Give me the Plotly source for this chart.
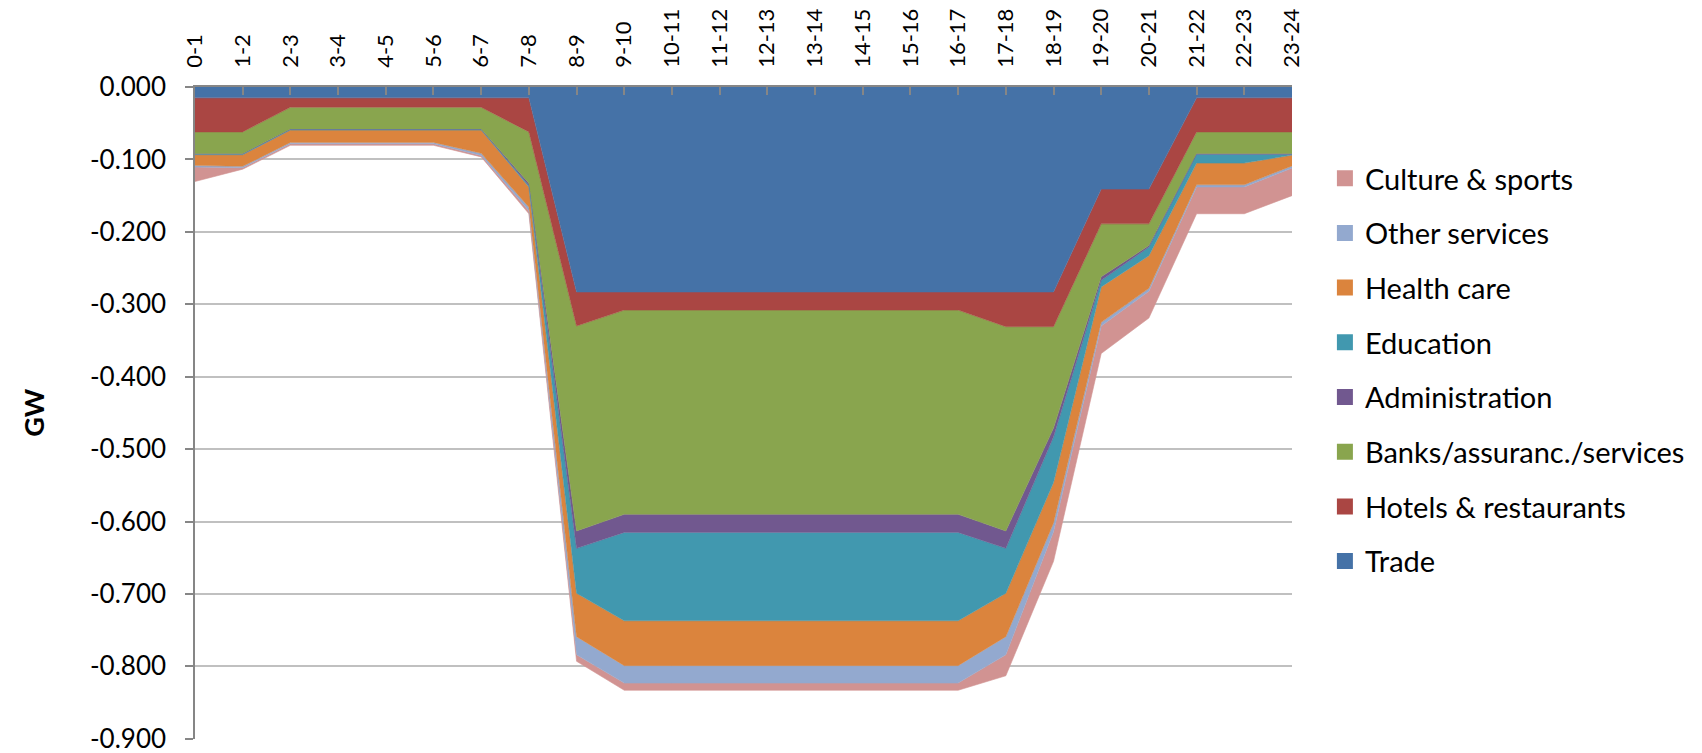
import plotly.graph_objects as go

hours = ["0-1", "1-2", "2-3", "3-4", "4-5", "5-6", "6-7", "7-8", "8-9", "9-10", "10-11", "11-12",
         "12-13", "13-14", "14-15", "15-16", "16-17", "17-18", "18-19", "19-20", "20-21", "21-22",
         "22-23", "23-24"]

trade = [-0.015, -0.015, -0.015, -0.015, -0.015, -0.015, -0.015, -0.015,
         -0.283, -0.283, -0.283, -0.283, -0.283, -0.283, -0.283, -0.283, -0.283, -0.283, -0.283,
         -0.141, -0.141, -0.015, -0.015, -0.015]
hotels = [-0.047, -0.047, -0.013, -0.013, -0.013, -0.013, -0.013, -0.047,
          -0.047, -0.025, -0.025, -0.025, -0.025, -0.025, -0.025, -0.025, -0.025, -0.048, -0.048,
          -0.048, -0.048, -0.047, -0.047, -0.047]
banks = [-0.030, -0.030, -0.030, -0.030, -0.030, -0.030, -0.030, -0.071,
         -0.283, -0.282, -0.282, -0.282, -0.282, -0.282, -0.282, -0.282, -0.282, -0.282, -0.140,
         -0.073, -0.030, -0.030, -0.030, -0.030]
administration = [-0.001, -0.001, -0.001, -0.001, -0.001, -0.001, -0.001, -0.003,
                  -0.024, -0.025, -0.025, -0.025, -0.025, -0.025, -0.025, -0.025, -0.025, -0.024, -0.012,
                  -0.005, -0.002, -0.001, -0.001, -0.001]
education = [-0.0005, -0.0005, -0.0005, -0.0005, -0.0005, -0.0005, -0.0005, -0.002,
             -0.062, -0.122, -0.122, -0.122, -0.122, -0.122, -0.122, -0.122, -0.122, -0.062, -0.063,
             -0.009, -0.012, -0.012, -0.012, -0.001]
health = [-0.015, -0.016, -0.017, -0.017, -0.017, -0.017, -0.032, -0.028,
          -0.060, -0.062, -0.062, -0.062, -0.062, -0.062, -0.062, -0.062, -0.062, -0.060, -0.056,
          -0.049, -0.045, -0.030, -0.030, -0.015]
other_services = [-0.002, -0.002, -0.002, -0.002, -0.002, -0.002, -0.003, -0.005,
                  -0.025, -0.024, -0.024, -0.024, -0.024, -0.024, -0.024, -0.024, -0.024, -0.025, -0.012,
                  -0.005, -0.004, -0.003, -0.003, -0.003]
culture = [-0.020, -0.002, -0.002, -0.002, -0.002, -0.002, -0.002, -0.004,
           -0.009, -0.010, -0.010, -0.010, -0.010, -0.010, -0.010, -0.010, -0.010, -0.029, -0.041,
           -0.038, -0.037, -0.037, -0.037, -0.038]

series_names = ["Trade", "Hotels & restaurants", "Banks/assuranc./services", "Administration",
                "Education", "Health care", "Other services", "Culture & sports"]
series_values = [trade, hotels, banks, administration, education, health, other_services, culture]
series_colors = ["#4572A7", "#AA4643", "#89A54E", "#71588F", "#4198AF", "#DB843D", "#93A9CF", "#D19392"]

ytick_vals = [0.0, -0.1, -0.2, -0.3, -0.4, -0.5, -0.6, -0.7, -0.8, -0.9]
ytick_labels = ["0.000", "-0.100", "-0.200", "-0.300", "-0.400", "-0.500", "-0.600", "-0.700",
                "-0.800", "-0.900"]

FONT = "Lato"

fig = go.Figure()
for name, vals, col in zip(series_names, series_values, series_colors):
    fig.add_trace(go.Scatter(
        x=hours, y=vals, name=name, stackgroup="one", mode="lines",
        line=dict(width=0.6, color=col), fillcolor=col, showlegend=False,
        hoverinfo="x+y+name",
    ))
# legend entries with square swatches (Culture & sports listed first)
n = len(series_names)
for i, (name, col) in enumerate(zip(series_names, series_colors)):
    fig.add_trace(go.Scatter(
        x=[None], y=[None], name=name, mode="markers", legendgroup=name,
        legendrank=100 + (n - i),
        marker=dict(symbol="square", size=16, color=col), showlegend=True,
    ))

fig.update_layout(
    width=1702, height=753,
    margin=dict(l=187, r=418, t=79, b=22),
    paper_bgcolor="white", plot_bgcolor="white",
    font=dict(family=FONT, color="black"),
    showlegend=True,
    legend=dict(
        traceorder="grouped", tracegroupgap=14,
        x=1.030, xanchor="left", y=0.899, yanchor="top",
        font=dict(family=FONT, size=29, color="black"),
        bgcolor="rgba(0,0,0,0)", borderwidth=0,
    ),
    xaxis=dict(
        type="category", side="top", range=[0, 23], automargin=False,
        tickangle=-90, tickfont=dict(family=FONT, size=22, color="black"),
        ticks="inside", ticklen=8, tickcolor="#868686", tickwidth=1.5,
        showline=True, linecolor="#868686", linewidth=1.5,
        showgrid=False, zeroline=False, ticklabelstandoff=13,
    ),
    yaxis=dict(
        range=[-0.9003, 0], tickvals=ytick_vals, ticktext=ytick_labels, automargin=False,
        tickfont=dict(family=FONT, size=26, color="black"),
        ticks="outside", ticklen=8, tickcolor="#868686", tickwidth=1.5,
        showline=True, linecolor="#868686", linewidth=1.5,
        showgrid=True, gridcolor="#c0c0c0", gridwidth=1.5,
        zeroline=False, ticklabelstandoff=14,
    ),
    annotations=[dict(
        text="<b>GW</b>", textangle=-90, xref="paper", yref="paper",
        x=-0.148, y=0.5, xanchor="center", yanchor="middle", showarrow=False,
        font=dict(family=FONT, size=27, color="black"),
    )],
)

fig.write_html("out.html")
